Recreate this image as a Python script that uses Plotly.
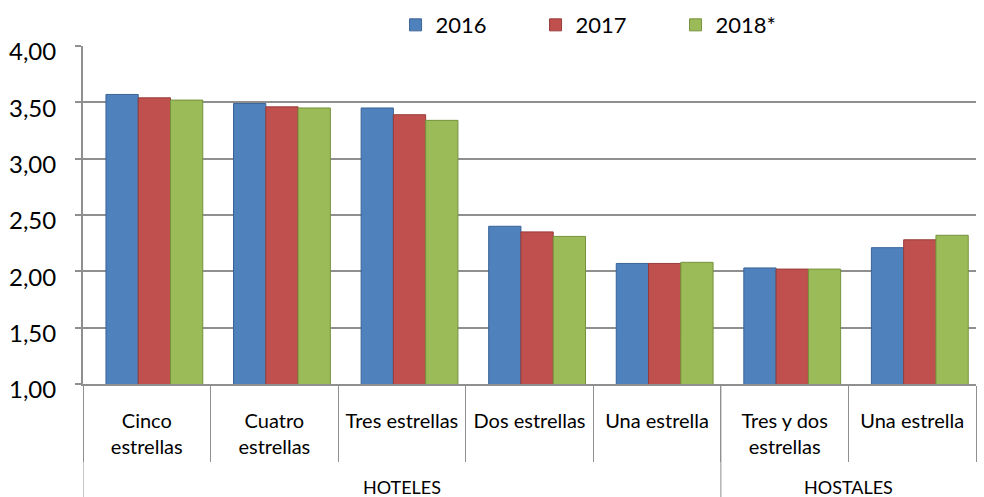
import plotly.graph_objects as go

grupos = ["HOTELES"] * 5 + ["HOSTALES"] * 2
categorias = ["Cinco<br>estrellas", "Cuatro<br>estrellas", "Tres estrellas", "Dos estrellas",
              "Una estrella", "Tres y dos<br>estrellas", "Una estrella"]
series = ["2016", "2017", "2018*"]
v2016 = [3.57, 3.49, 3.45, 2.40, 2.07, 2.03, 2.21]
v2017 = [3.54, 3.46, 3.39, 2.35, 2.07, 2.02, 2.28]
v2018 = [3.52, 3.45, 3.34, 2.31, 2.08, 2.02, 2.32]
valores = [v2016, v2017, v2018]
colores = ["#4F81BD", "#C0504D", "#9BBB59"]
bordes = ["#3A6496", "#963C3A", "#76923C"]
y_ticks = [1.0, 1.5, 2.0, 2.5, 3.0, 3.5, 4.0]

W, H = 984, 497
L, R, T, B = 83, 8, 46, 113
PH = H - T - B
GRID = "#8F8F8F"

pos = list(range(len(categorias)))

fig = go.Figure()
bw = 0.253
offs = [-0.32, -0.067, 0.186]
for name, vals, col, bc, off in zip(series, valores, colores, bordes, offs):
    fig.add_trace(go.Bar(
        x=pos, y=vals, name=name,
        marker=dict(color=col, line=dict(color=bc, width=1)),
        width=bw, offset=off,
    ))

# group labels and dividers derived from the group list
bounds = [-0.5]
for i in range(1, len(grupos)):
    if grupos[i] != grupos[i - 1]:
        bounds.append(i - 0.5)
starts = [0] + [i for i in range(1, len(grupos)) if grupos[i] != grupos[i - 1]]
ends = starts[1:] + [len(grupos)]
for s, e in zip(starts, ends):
    fig.add_annotation(x=(s + e - 1) / 2, xref="x", y=-(487 - (T + PH)) / PH,
                       yref="paper", text=grupos[s], showarrow=False,
                       font=dict(size=18), yanchor="middle")
for b in bounds:
    fig.add_shape(type="line", xref="x", yref="paper", x0=b, x1=b, y0=0, y1=-B / PH,
                  line=dict(color=GRID, width=1))

fig.update_layout(
    width=W, height=H,
    margin=dict(l=L, r=R, t=T, b=B, autoexpand=False),
    paper_bgcolor="white", plot_bgcolor="white",
    barmode="overlay",
    separators=",.",
    font=dict(family="Lato, Carlito, sans-serif", color="#000000"),
    legend=dict(orientation="h", x=0.350, xanchor="left", y=1.062, yanchor="middle",
                font=dict(size=22), entrywidth=95, entrywidthmode="pixels",
                bgcolor="rgba(0,0,0,0)", traceorder="normal"),
)
fig.update_yaxes(
    range=[1, 4], tickvals=y_ticks, tickformat=".2f",
    tickfont=dict(size=24), showgrid=True, gridcolor=GRID, gridwidth=2,
    showline=True, linecolor=GRID, linewidth=2,
    ticks="outside", ticklen=6, tickcolor=GRID, tickwidth=2,
    ticklabelstandoff=14, ticklabelshift=6, zeroline=False,
)
fig.update_xaxes(
    range=[-0.5, len(categorias) - 0.5], tickvals=pos, ticktext=categorias,
    tickfont=dict(size=20), showline=True, linecolor=GRID, linewidth=2,
    ticks="", showgrid=False, zeroline=False, ticklabelstandoff=18,
    minor=dict(tickvals=[p - 0.5 for p in pos] + [len(pos) - 0.5], ticks="outside",
               ticklen=76, tickcolor=GRID, tickwidth=1, showgrid=False),
)

fig.write_html("out.html", config={"displayModeBar": False},
               post_script="document.body.style.margin='0';")
